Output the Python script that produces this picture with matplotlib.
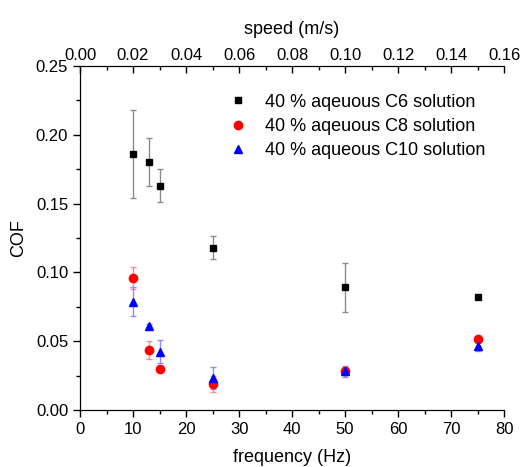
import numpy as np
import matplotlib.pyplot as plt
from matplotlib.ticker import MultipleLocator

plt.rcParams['font.family'] = ['Liberation Sans', 'DejaVu Sans']

# ==================== 数据 ====================

freq = [10, 13, 15, 25, 50, 75]

c6_cof = [0.186, 0.180, 0.163, 0.118, 0.089, 0.082]
c6_err = [0.032, 0.0175, 0.012, 0.0085, 0.0175, 0.001]

c8_cof = [0.096, 0.0435, 0.0297, 0.019, 0.0283, 0.0514]
c8_err = [0.008, 0.0065, 0.002, 0.006, 0.003, 0.002]

c10_cof = [0.0785, 0.0613, 0.0424, 0.023, 0.0283, 0.0462]
c10_err = [0.0105, 0.001, 0.0085, 0.008, 0.004, 0.003]

labels = ['40 % aqeuous C6 solution', '40 % aqeuous C8 solution',
          '40 % aqueous C10 solution']

# ==================== 绘图 ====================

fig = plt.figure(figsize=(5.23, 4.67), dpi=100)
ax = fig.add_axes([0.153, 0.122, 0.811, 0.737])

series = [
    (c6_cof, c6_err, 's', 'black', '#8c8c8c', 5),
    (c8_cof, c8_err, 'o', 'red', '#ff8c8c', 6),
    (c10_cof, c10_err, '^', 'blue', '#8c8cff', 6),
]
for (y, e, m, c, ec, ms), lab in zip(series, labels):
    ax.errorbar(freq, y, yerr=e, fmt='none', ecolor=ec, elinewidth=1,
                capsize=2.5, capthick=1, zorder=2)
    ax.plot(freq, y, linestyle='none', marker=m, color=c, markersize=ms,
            label=lab, zorder=3)

ax.set_xlim(0, 80)
ax.set_ylim(0, 0.25)
ax.xaxis.set_major_locator(MultipleLocator(10))
ax.xaxis.set_minor_locator(MultipleLocator(5))
ax.yaxis.set_major_locator(MultipleLocator(0.05))
ax.yaxis.set_minor_locator(MultipleLocator(0.025))
ax.yaxis.set_major_formatter(plt.FormatStrFormatter('%.2f'))

ax.spines['right'].set_visible(False)
ax.tick_params(axis='both', which='major', direction='out', length=5,
               labelsize=12, width=1)
ax.tick_params(axis='both', which='minor', direction='out', length=3, width=1)

ax.set_xlabel('frequency (Hz)', fontsize=13, labelpad=9)
ax.set_ylabel('COF', fontsize=13, labelpad=6)

# 顶部速度轴
top = ax.twiny()
top.set_xlim(0, 0.16)
top.xaxis.set_major_locator(MultipleLocator(0.02))
top.xaxis.set_minor_locator(MultipleLocator(0.01))
top.xaxis.set_major_formatter(plt.FormatStrFormatter('%.2f'))
top.spines['right'].set_visible(False)
top.tick_params(axis='x', which='major', direction='in', length=5,
                labelsize=12, width=1, pad=2)
top.tick_params(axis='x', which='minor', direction='in', length=3, width=1)
top.set_xlabel('speed (m/s)', fontsize=13, labelpad=10)

ax.legend(loc='upper left', bbox_to_anchor=(0.335, 0.94), frameon=False,
          fontsize=13, handlelength=1.0, handletextpad=0.95,
          labelspacing=0.4, borderpad=0.4, borderaxespad=0)

fig.savefig('out.png', dpi=100)
